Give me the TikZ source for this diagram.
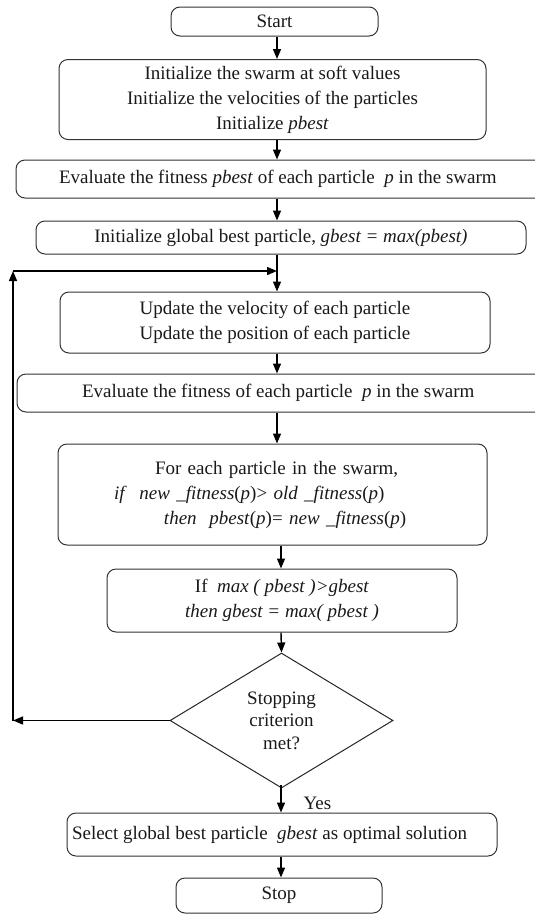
\documentclass[tikz,border=0pt]{standalone}
\usepackage{fontspec}
\setmainfont{Liberation Serif}
\usetikzlibrary{arrows.meta,shapes.geometric}
\begin{document}
\begin{tikzpicture}[x=1pt,y=-1pt,
  box/.style={draw=black!80, line width=1pt, rounded corners=9pt, inner sep=0pt, align=center, text=black!90, font=\fontsize{19}{25}\selectfont},
  dec/.style={draw=black!85, line width=1pt, diamond, inner sep=0pt, align=center, text=black!90, font=\fontsize{19}{22.5}\selectfont},
  arr/.style={line width=1.4pt, -{Triangle[length=10pt,width=8pt]}},
  lbl/.style={inner sep=0pt, text=black!90, font=\fontsize{19}{25}\selectfont}]
\useasboundingbox (0,0) rectangle (535,914);
\clip (0,0) rectangle (535,914);
\coordinate (colA) at (277,0);
\coordinate (colB) at (281,0);
\coordinate (loopx) at (13,0);
\coordinate (loopy) at (0,271);

\node[box, minimum width=207pt, minimum height=29pt] (start) at (274.5,21.5) {Start};
\node[box, minimum width=427pt, minimum height=80pt] (init) at (272.5,99.5)
  {Initialize the swarm at soft values\\Initialize the velocities of the particles\\Initialize \textit{pbest}};
\node[box, minimum width=529pt, minimum height=38pt, inner xsep=43pt] (ev1) at (280.5,179)
  {\makebox[443pt][l]{Evaluate the fitness \textit{pbest} of each particle~~\textit{p} in the swarm}};
\node[box, minimum width=490pt, minimum height=33pt] (ig) at (281,237.5)
  {Initialize global best particle, \textit{gbest = max(pbest)}};
\node[box, minimum width=430pt, minimum height=61pt] (upd) at (275,322.5)
  {Update the velocity of each particle\\Update the position of each particle};
\node[box, minimum width=528pt, minimum height=38pt, inner xsep=65pt] (ev2) at (281,393)
  {\makebox[398pt][l]{Evaluate the fitness of each particle~~\textit{p} in the swarm}};
\node[box, minimum width=429pt, minimum height=101pt, text width=429pt, align=left] (fe) at (272.5,494.5)
  {\hspace*{97pt}For each particle in the swarm,\\
   \hspace*{56pt}\textit{if}~~\textit{new~\_fitness}(\textit{p})>~\textit{old~\_fitness}(\textit{p})\\
   \hspace*{106pt}\textit{then}~~\textit{pbest}(\textit{p})=~\textit{new~\_fitness}(\textit{p})};
\node[box, minimum width=350pt, minimum height=63pt] (ifb) at (282,600.5)
  {If~~\textit{max ( pbest )>gbest}\\\textit{then gbest = max( pbest )}};
\node[dec, minimum width=223pt, minimum height=135pt] (dia) at (281.5,720.5)
  {Stopping\\criterion\\met?};
\node[box, minimum width=430pt, minimum height=43pt, inner xsep=5pt] (sel) at (282,834.5)
  {\makebox[420pt][l]{Select global best particle~~\textit{gbest} as optimal solution}};
\node[box, minimum width=206pt, minimum height=35pt] (stop) at (279,895.5) {Stop};
\node[lbl] (yes) at (317.5,803) {Yes};

\draw[arr] (start.south -| colA) -- (init.north -| colA);
\draw[arr] (init.south -| colA) -- (ev1.north -| colA);
\draw[arr] (ev1.south -| colA) -- (ig.north -| colA);
\draw[arr] (ig.south -| colA) -- (upd.north -| colA);
\draw[arr] (upd.south -| colA) -- (ev2.north -| colA);
\draw[arr] (ev2.south -| colA) -- (fe.north -| colA);
\draw[arr] (fe.south -| colB) -- (ifb.north -| colB);
\draw[arr] (ifb.south -| colB) -- (dia.north);
\draw[arr] ([yshift=4pt]dia.south -| colB) -- (sel.north -| colB);
\draw[arr] (sel.south -| colB) -- (stop.north -| colB);

\draw[arr] (dia.west) -- (dia.west -| loopx) coordinate (lc1);
\draw[arr] (lc1) -- (lc1 |- loopy) coordinate (lc2);
\draw[arr] (lc2) -- (lc2 -| colA);
\end{tikzpicture}
\end{document}
